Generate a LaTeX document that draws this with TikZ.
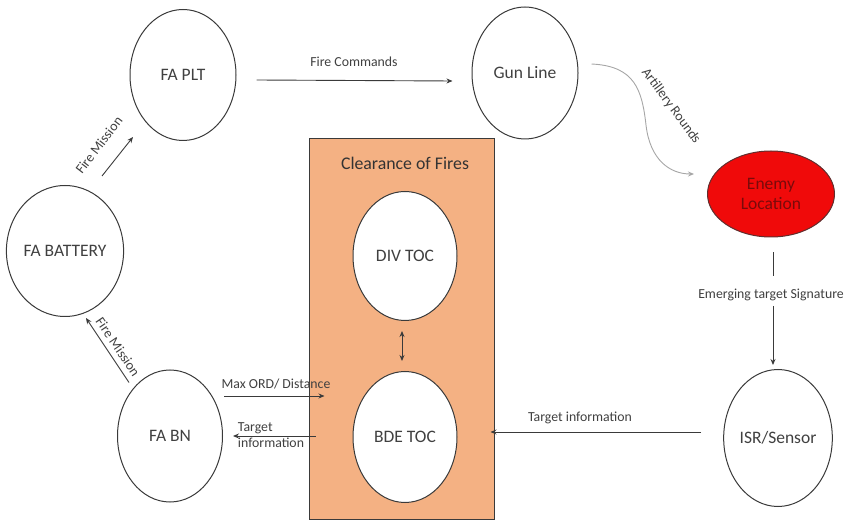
\documentclass[tikz,border=0pt]{standalone}
\usepackage{fontspec}
\setmainfont{Carlito}
\usetikzlibrary{shapes.geometric,arrows.meta,calc}
\definecolor{txt}{HTML}{404040}
\definecolor{ln}{HTML}{3A3A3A}
\definecolor{orng}{HTML}{F4B183}
\definecolor{enemyred}{HTML}{F00A0A}
\definecolor{enemytxt}{HTML}{7A0A0A}
\tikzset{
  ent/.style={ellipse, draw=ln, line width=1pt, fill=white, text=txt, inner sep=0pt,
    minimum width=#1, font=\fontsize{17.5}{21}\selectfont},
  lbl/.style={text=txt, font=\fontsize{13.8}{16}\selectfont, inner sep=1pt},
  arr/.style={draw=ln, line width=0.9pt, -{Stealth[length=6pt,width=5pt]}},
  plain/.style={draw=ln, line width=0.9pt},
}
\begin{document}
\begin{tikzpicture}[x=1pt,y=-1pt]
\useasboundingbox (0,0) rectangle (844,521);
% clearance box
\node[draw=ln, line width=1pt, fill=orng, minimum width=185pt, minimum height=380pt, inner sep=0pt] (cof) at (401.5,329) {};
\node[text=txt!80!black, font=\fontsize{17.8}{21}\selectfont] (coftitle) at (405,163) {Clearance of Fires};
% entities
\node[ent, minimum width=106pt, minimum height=131pt] (plt) at (183,75) {FA PLT};
\node[ent, minimum width=106pt, minimum height=132pt] (gun) at (525,73) {Gun Line};
\node[ellipse, draw=ln!80!red, line width=1pt, fill=enemyred, text=enemytxt, inner sep=0pt,
  minimum width=127pt, minimum height=86pt, align=center, font=\fontsize{17.5}{20}\selectfont] (enemy) at (771,194) {Enemy\\Location};
\node[ent, minimum width=106pt, minimum height=131pt] (battery) at (65,251) {FA BATTERY};
\node[ent, minimum width=105pt, minimum height=132pt] (bn) at (170,436) {FA BN};
\node[ent, minimum width=104pt, minimum height=129pt] (div) at (405,256) {DIV TOC};
\node[ent, minimum width=104pt, minimum height=131pt] (bde) at (405,437) {BDE TOC};
\node[ent, minimum width=104pt, minimum height=137pt] (isr) at (778,438) {ISR/Sensor};
% connectors
\draw[arr] ([shift={(20,5)}]plt.east) -- ([shift={(-19,8)}]gun.west);
\node[lbl] (lfc) at (354,62) {Fire Commands};
\draw[arr, draw=gray!70] ([shift={(13,-9)}]gun.east) .. controls (635,66) and (642,90) .. (646,125)
  .. controls (650,160) and (670,174) .. ([shift={(-13,-20)}]enemy.west);
\node[lbl, rotate=-53.5] (lar) at (671,106) {Artillery Rounds};
\draw[arr] ([shift={(37,-9)}]battery.north) -- ([shift={(-50,-4)}]plt.south);
\node[lbl, rotate=52.6] (lfm1) at (99,145) {Fire Mission};
\draw[arr] ([shift={(-41,13)}]bn.north) -- ([shift={(21,1)}]battery.south);
\node[lbl, rotate=-56] (lfm2) at (118,347) {Fire Mission};
\draw[arr] ([shift={(1,-40)}]bn.east) -- ([shift={(-28,-41)}]bde.west);
\node[lbl] (lmax) at (276,384) {Max ORD/ Distance};
\draw[arr] ([shift={(-37,-1)}]bde.west) -- ([shift={(10,0)}]bn.east);
\node[lbl, align=left] (lti1) at (271,435) {Target\\information};
\draw[arr] ([shift={(-22,-6)}]isr.west) -- ([shift={(33,-5)}]bde.east);
\node[lbl] (lti2) at (580,418) {Target information};
\node[lbl] (lemg) at (771,295) {Emerging target Signature};
\draw[plain] ([shift={(2,15)}]enemy.south) -- ([shift={(2,39)}]enemy.south);
\draw[arr] ([shift={(-5,-63)}]isr.north) -- ([shift={(-5,-4)}]isr.north);
\draw[draw=ln, line width=0.9pt, {Stealth[length=6pt,width=5pt]}-{Stealth[length=6pt,width=5pt]}] ([shift={(-3,10)}]div.south) -- ([shift={(-3,-10)}]bde.north);
\end{tikzpicture}
\end{document}
